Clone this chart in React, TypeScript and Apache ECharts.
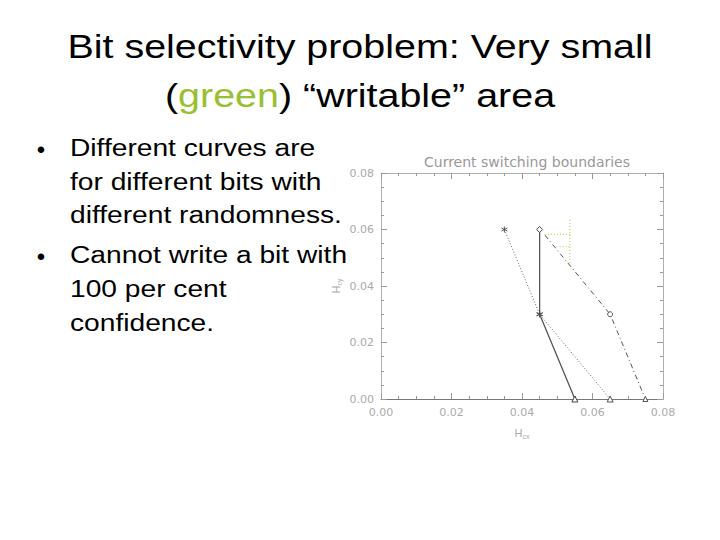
import { useEffect, useRef } from 'react'
import * as echarts from 'echarts'

// switching boundaries, [Hcx, Hcy]
const solidCurve = [[0.045, 0.06], [0.045, 0.03], [0.055, 0.0]]
const dottedCurve = [[0.035, 0.06], [0.045, 0.03], [0.065, 0.0]]
const dashedCurve = [[0.0465, 0.058], [0.065, 0.03], [0.075, 0.0]]
// green "writable" area outline
const greenVertical = [[0.0536, 0.0634], [0.0536, 0.0463]]
const greenTop = [[0.0465, 0.0583], [0.0536, 0.0583]]
const greenLow = [[0.0498, 0.0539], [0.0536, 0.0539]]

const titleLines = ['Bit selectivity problem: Very small', '(green) “writable” area']
const bulletLines = [
  { text: 'Different curves are', bullet: true, y: 148 },
  { text: 'for different bits with', bullet: false, y: 182 },
  { text: 'different randomness.', bullet: false, y: 215 },
  { text: 'Cannot write a bit with', bullet: true, y: 255 },
  { text: '100 per cent', bullet: false, y: 289 },
  { text: 'confidence.', bullet: false, y: 323 },
]

const ASTER = 'path://M0,-1L0,1M-0.87,-0.5L0.87,0.5M-0.87,0.5L0.87,-0.5'

export default function App() {
  const ref = useRef<HTMLDivElement>(null)

  useEffect(() => {
    if (!ref.current) return
    const chart = echarts.init(ref.current, null, { renderer: 'svg' })
    const font = '"Liberation Sans", Arial, sans-serif'
    const axisGray = '#9a9a9a'
    const lab = { color: '#aaaaaa', fontSize: 11, fontFamily: 'DejaVu Sans, sans-serif' }
    const tick = { show: true, inside: true, length: 6, lineStyle: { color: axisGray } }
    const minor = { show: true, splitNumber: 4, length: 3, lineStyle: { color: axisGray } }
    const base = { type: 'value' as const, min: 0, max: 0.08, interval: 0.02, splitLine: { show: false } }
    const frame = (color: string) => ({ show: true, onZero: false, lineStyle: { color } })

    const pt = (p: number[], symbol: string) => ({ value: p, symbol })

    const graphic: any[] = [
      { type: 'text', x: 360, y: 46, scaleX: 1.16, style: { text: titleLines[0], font: `34px ${font}`, fill: '#000', textAlign: 'center', textVerticalAlign: 'middle' } },
      { type: 'text', x: 360, y: 95, scaleX: 1.16, style: {
        text: '{p|(}{g|green}{p|) “writable” area}', textAlign: 'center', textVerticalAlign: 'middle',
        rich: { p: { fontSize: 34, fontFamily: font, fill: '#000' }, g: { fontSize: 34, fontFamily: font, fill: '#99c031' } },
      } },
    ]
    bulletLines.forEach(l => {
      graphic.push({ type: 'text', x: 70, y: l.y, scaleX: 1.15, style: { text: l.text, font: `24.5px ${font}`, fill: '#000', textAlign: 'left', textVerticalAlign: 'middle' } })
      if (l.bullet) graphic.push({ type: 'text', x: 41, y: l.y + 1, style: { text: '•', font: `24px ${font}`, fill: '#000', textAlign: 'center', textVerticalAlign: 'middle' } })
    })

    chart.setOption({
      animation: false,
      backgroundColor: '#fff',
      title: {
        text: 'Current switching boundaries', left: 522, top: 150, textAlign: 'center',
        textStyle: { color: '#999', fontSize: 14, fontWeight: 'normal', fontFamily: 'DejaVu Sans, sans-serif' },
      },
      grid: { left: 381, right: 57, top: 173, bottom: 141 },
      xAxis: [
        { ...base, position: 'bottom', axisLine: frame('#777'), axisTick: tick, minorTick: minor,
          axisLabel: { ...lab, margin: 8, formatter: (v: number) => v.toFixed(2) },
          name: '{h|H}{s|cx}', nameLocation: 'middle', nameGap: 26,
          nameTextStyle: { rich: { h: { color: '#aaa', fontSize: 11 }, s: { color: '#aaa', fontSize: 7, padding: [8, 0, 0, 0] } } } },
        { ...base, position: 'top', axisLine: frame('#b0b0b0'), axisTick: tick, minorTick: minor, axisLabel: { show: false } },
      ],
      yAxis: [
        { ...base, position: 'left', axisLine: frame('#b0b0b0'), axisTick: tick, minorTick: minor,
          axisLabel: { ...lab, margin: 7, formatter: (v: number) => v.toFixed(2) },
          name: '{h|H}{s|cy}', nameLocation: 'middle', nameGap: 38, nameRotate: 90,
          nameTextStyle: { rich: { h: { color: '#aaa', fontSize: 11 }, s: { color: '#aaa', fontSize: 7, padding: [8, 0, 0, 0] } } } },
        { ...base, position: 'right', axisLine: frame('#b0b0b0'), axisTick: tick, minorTick: minor, axisLabel: { show: false } },
      ],
      series: [
        { type: 'line', data: [pt(solidCurve[0], 'diamond'), pt(solidCurve[1], ASTER), pt(solidCurve[2], 'triangle')],
          lineStyle: { color: '#555', width: 1.3 }, symbolSize: 6, itemStyle: { color: '#fff', borderColor: '#444', borderWidth: 1 } },
        { type: 'line', data: [pt(dottedCurve[0], ASTER), pt(dottedCurve[1], ASTER), pt(dottedCurve[2], 'triangle')],
          lineStyle: { color: '#666', width: 1, type: [1, 2] }, symbolSize: 6, itemStyle: { color: '#fff', borderColor: '#555', borderWidth: 1 } },
        { type: 'line', data: [pt(dashedCurve[0], 'none'), pt(dashedCurve[1], 'circle'), pt(dashedCurve[2], 'triangle')],
          lineStyle: { color: '#555', width: 1, type: [5, 3, 1, 3] }, symbolSize: 5, itemStyle: { color: '#fff', borderColor: '#555', borderWidth: 1 } },
        ...[greenVertical, greenTop, greenLow].map(seg => ({
          type: 'line', data: seg, symbol: 'none', lineStyle: { color: '#b5c440', width: 1, type: [1, 2] },
        })),
      ],
      graphic,
    })
    return () => chart.dispose()
  }, [])

  return <div ref={ref} style={{ position: 'absolute', left: 0, top: 0, width: 720, height: 540 }} />
}
